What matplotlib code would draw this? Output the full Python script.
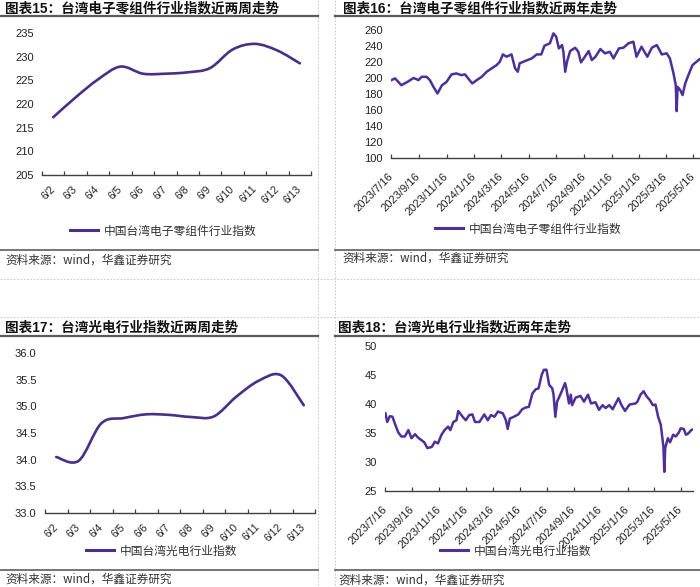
import numpy as np
import pandas as pd
import matplotlib
matplotlib.use('Agg')
import matplotlib.pyplot as plt
from matplotlib.path import Path
from matplotlib.patches import PathPatch
from matplotlib.lines import Line2D

plt.rcParams['font.family'] = ['Liberation Sans', 'Noto Sans CJK SC', 'DejaVu Sans']
plt.rcParams['axes.unicode_minus'] = False

# ---------------- data ----------------
days_2w = ['6/2', '6/3', '6/4', '6/5', '6/6', '6/7', '6/8', '6/9', '6/10', '6/11', '6/12', '6/13']
elec_2w = [217.2, 221.4, 225.2, 227.9, 226.4, 226.4, 226.7, 227.6, 231.5, 232.7, 231.3, 228.6]
pv_2w = [34.05, 33.98, 34.68, 34.78, 34.85, 34.84, 34.80, 34.81, 35.18, 35.48, 35.58, 35.02]

elec_2y_dates = ['2023-07-17', '2023-07-25', '2023-08-08', '2023-08-21', '2023-09-04', '2023-09-15',
                 '2023-09-22', '2023-10-03', '2023-10-10', '2023-10-18', '2023-10-27', '2023-11-06',
                 '2023-11-16', '2023-11-27', '2023-12-08', '2023-12-19', '2023-12-27', '2024-01-03',
                 '2024-01-12', '2024-01-22', '2024-02-02', '2024-02-13', '2024-02-26', '2024-03-06',
                 '2024-03-13', '2024-03-20', '2024-03-28', '2024-04-08', '2024-04-16', '2024-04-22',
                 '2024-04-26', '2024-05-08', '2024-05-23', '2024-06-03', '2024-06-13', '2024-06-20',
                 '2024-07-02', '2024-07-10', '2024-07-16', '2024-07-22', '2024-07-29', '2024-08-01',
                 '2024-08-05', '2024-08-09', '2024-08-16', '2024-08-27', '2024-09-03', '2024-09-09',
                 '2024-09-16', '2024-09-26', '2024-10-03', '2024-10-11', '2024-10-22', '2024-11-01',
                 '2024-11-12', '2024-11-20', '2024-12-02', '2024-12-12', '2024-12-23', '2025-01-03',
                 '2025-01-10', '2025-01-21', '2025-02-03', '2025-02-13', '2025-02-24', '2025-03-07',
                 '2025-03-18', '2025-03-25', '2025-04-02', '2025-04-07', '2025-04-09', '2025-04-11',
                 '2025-04-17', '2025-04-22', '2025-04-28', '2025-05-05', '2025-05-14', '2025-05-23',
                 '2025-05-30', '2025-06-06', '2025-06-13']
elec_2y_vals = [197.4, 199.5, 191.0, 195.0, 200.0, 197.4,
                201.5, 201.5, 197.4, 189.0, 180.7, 191.0,
                195.0, 204.5, 205.7, 203.6, 204.5, 199.5,
                193.2, 197.4, 201.5, 207.8, 212.8, 216.1,
                220.3, 229.5, 226.6, 229.5, 212.0, 207.8,
                218.3, 221.2, 224.5, 229.5, 229.5, 240.3,
                243.3, 255.8, 251.6, 237.0, 241.2, 232.8,
                207.8, 220.3, 233.7, 237.8, 232.8, 219.5,
                225.3, 233.7, 222.4, 226.6, 236.2, 230.8,
                232.8, 224.5, 237.0, 237.8, 243.3, 245.4,
                226.6, 239.1, 226.6, 237.8, 241.2, 229.5,
                230.8, 224.5, 205.7, 191.0, 158.6, 189.0,
                184.8, 178.6, 193.2, 203.6, 216.1, 220.3,
                223.7, 225.5, 228.6]

pv_2y_dates = ['2023-07-17', '2023-07-21', '2023-07-27', '2023-08-02', '2023-08-07', '2023-08-15',
               '2023-08-22', '2023-08-30', '2023-09-07', '2023-09-14', '2023-09-22', '2023-09-29',
               '2023-10-06', '2023-10-13', '2023-10-20', '2023-10-30', '2023-11-06', '2023-11-13',
               '2023-11-21', '2023-11-28', '2023-12-06', '2023-12-11', '2023-12-18', '2023-12-25',
               '2023-12-29', '2024-01-08', '2024-01-15', '2024-01-23', '2024-01-30', '2024-02-05',
               '2024-02-15', '2024-02-26', '2024-03-05', '2024-03-12', '2024-03-20', '2024-03-28',
               '2024-04-08', '2024-04-15', '2024-04-19', '2024-04-24', '2024-05-03', '2024-05-13',
               '2024-05-22', '2024-05-30', '2024-06-06', '2024-06-14', '2024-06-21', '2024-06-28',
               '2024-07-05', '2024-07-10', '2024-07-16', '2024-07-22', '2024-07-29', '2024-08-01',
               '2024-08-05', '2024-08-09', '2024-08-19', '2024-08-27', '2024-08-30', '2024-09-05',
               '2024-09-09', '2024-09-12', '2024-09-20', '2024-10-01', '2024-10-09', '2024-10-18',
               '2024-10-25', '2024-11-04', '2024-11-12', '2024-11-20', '2024-11-27', '2024-12-05',
               '2024-12-13', '2024-12-26', '2025-01-02', '2025-01-10', '2025-01-20', '2025-02-03',
               '2025-02-07', '2025-02-14', '2025-02-21', '2025-02-28', '2025-03-07', '2025-03-14',
               '2025-03-20', '2025-03-26', '2025-04-01', '2025-04-07', '2025-04-09', '2025-04-11',
               '2025-04-17', '2025-04-22', '2025-04-29', '2025-05-05', '2025-05-12', '2025-05-16',
               '2025-05-23', '2025-05-28', '2025-06-02', '2025-06-09', '2025-06-12']
pv_2y_vals = [38.4, 36.9, 37.9, 37.8, 36.7, 35.1,
              34.4, 34.4, 35.5, 34.1, 34.8, 34.2,
              33.8, 33.4, 32.4, 32.6, 33.5, 33.2,
              34.7, 35.5, 36.1, 35.5, 36.9, 37.2,
              38.8, 37.8, 37.2, 38.1, 38.2, 36.9,
              36.9, 38.2, 37.2, 38.1, 37.8, 38.7,
              38.4, 37.2, 35.7, 37.5, 37.8, 38.2,
              39.1, 39.4, 39.5, 41.8, 42.5, 42.7,
              45.0, 45.9, 45.9, 43.3, 42.7, 41.6,
              37.8, 40.4, 42.1, 43.6, 42.7, 40.1,
              41.6, 39.8, 41.1, 41.4, 40.4, 41.6,
              40.1, 40.3, 39.0, 39.8, 39.3, 39.8,
              39.1, 41.0, 39.8, 38.8, 39.9, 40.1,
              40.4, 41.6, 42.2, 41.3, 40.7, 39.8,
              39.9, 37.8, 36.4, 32.6, 28.3, 32.4,
              34.1, 33.4, 34.7, 34.4, 35.1, 35.8,
              35.7, 34.7, 34.9, 35.5, 35.6]

tick_dates_2y = ['2023/7/16', '2023/9/16', '2023/11/16', '2024/1/16', '2024/3/16', '2024/5/16',
                 '2024/7/16', '2024/9/16', '2024/11/16', '2025/1/16', '2025/3/16', '2025/5/16']

titles = ['图表15：台湾电子零组件行业指数近两周走势', '图表16：台湾电子零组件行业指数近两年走势',
          '图表17：台湾光电行业指数近两周走势', '图表18：台湾光电行业指数近两年走势']
name_elec = '中国台湾电子零组件行业指数'
name_pv = '中国台湾光电行业指数'
source = '资料来源：wind，华鑫证券研究'

# ---------------- layout ----------------
W, H = 700, 587
fig = plt.figure(figsize=(W / 100, H / 100), dpi=100)
LINE = '#4b2e86'
LINE2 = '#4f2f99'
CJK = ['Noto Sans CJK SC', 'DejaVu Sans']


def rect(l, t, r, b):
    return [l / W, 1 - b / H, (r - l) / W, (b - t) / H]


def fx(x):
    return x / W


def fy(y):
    return 1 - y / H


def style(ax):
    for s in ['top', 'right', 'left']:
        ax.spines[s].set_visible(False)
    ax.spines['bottom'].set_color('#404040')
    ax.spines['bottom'].set_linewidth(1.0)
    ax.tick_params(axis='y', length=0, labelsize=8, pad=6, colors='#222222')
    ax.tick_params(axis='x', which='major', direction='in', length=3, width=0.9,
                   color='#404040', labelsize=8, colors='#222222')
    ax.patch.set_alpha(0)


def smooth_path(xs, ys):
    # Excel-style smoothed line through the points (Catmull-Rom as Bezier)
    pts = np.column_stack([xs, ys]).astype(float)
    n = len(pts)
    verts = [pts[0]]
    codes = [Path.MOVETO]
    for i in range(n - 1):
        p0 = pts[i - 1] if i > 0 else pts[i]
        p1, p2 = pts[i], pts[i + 1]
        p3 = pts[i + 2] if i + 2 < n else pts[i + 1]
        verts += [p1 + (p2 - p0) / 6, p2 - (p3 - p1) / 6, p2]
        codes += [Path.CURVE4] * 3
    return Path(verts, codes)


def two_week(ax, vals, ylim, step, fmt, color):
    x = np.arange(len(days_2w))
    ax.add_patch(PathPatch(smooth_path(x, vals), fill=False, edgecolor=color, lw=1.9,
                           capstyle='round', joinstyle='round'))
    ax.set_xlim(-0.5, len(days_2w) - 0.5)
    ax.set_ylim(*ylim)
    ax.set_yticks(np.arange(ylim[0], ylim[1] + step / 2, step))
    ax.yaxis.set_major_formatter(matplotlib.ticker.FormatStrFormatter(fmt))
    ax.set_xticks(np.arange(len(days_2w) + 1) - 0.5)
    ax.set_xticklabels([])
    ax.set_xticks(x, minor=True)
    ax.set_xticklabels(days_2w, minor=True)
    ax.tick_params(axis='x', which='minor', length=0, pad=9, labelsize=7.5, colors='#222222')
    for lab in ax.get_xticklabels(minor=True):
        lab.set_rotation(45)
        lab.set_ha('right')
        lab.set_va('center')
        lab.set_rotation_mode('anchor')


def two_year(ax, dates, vals, ylim, step, color):
    d = pd.to_datetime(dates)
    ax.plot(d, vals, color=color, lw=1.8, solid_joinstyle='round')
    ax.set_xlim(pd.Timestamp('2023-07-16'), pd.Timestamp('2025-06-13'))
    ax.set_ylim(*ylim)
    ax.set_yticks(np.arange(ylim[0], ylim[1] + step / 2, step))
    ticks = pd.to_datetime(tick_dates_2y, format='%Y/%m/%d')
    ax.set_xticks(ticks)
    ax.set_xticklabels(tick_dates_2y)
    ax.tick_params(axis='x', which='major', pad=12)
    for lab in ax.get_xticklabels():
        lab.set_rotation(45)
        lab.set_ha('right')
        lab.set_va('center')
        lab.set_rotation_mode('anchor')


ax15 = fig.add_axes(rect(42, 33, 311, 175))
ax16 = fig.add_axes(rect(391, 30, 706, 158))
ax17 = fig.add_axes(rect(45, 353, 315, 513))
ax18 = fig.add_axes(rect(385, 346, 693, 491))
for a in (ax15, ax16, ax17, ax18):
    style(a)

two_week(ax15, elec_2w, (205, 235), 5, '%d', LINE)
two_year(ax16, elec_2y_dates, elec_2y_vals, (100, 260), 20, LINE2)
two_week(ax17, pv_2w, (33.0, 36.0), 0.5, '%.1f', LINE)
two_year(ax18, pv_2y_dates, pv_2y_vals, (25, 50), 5, LINE2)


def legend(ax, label, color, x, y):
    h = Line2D([], [], color=color, lw=2.2)
    ax.legend([h], [label], loc='center left', bbox_to_anchor=(fx(x), fy(y)),
              bbox_transform=fig.transFigure, frameon=False, borderpad=0, borderaxespad=0,
              handlelength=2.4, handletextpad=0.45,
              prop={'family': CJK, 'size': 8.5}, labelcolor='#333333')


legend(ax15, name_elec, LINE, 70, 231)
legend(ax16, name_elec, LINE2, 435, 229)
legend(ax17, name_pv, LINE, 86, 551)
legend(ax18, name_pv, LINE2, 440, 551)

# ---------------- frame decoration ----------------
def hline(y, x0, x1, color, lw, ls='-'):
    fig.add_artist(Line2D([fx(x0), fx(x1)], [fy(y), fy(y)], transform=fig.transFigure,
                          color=color, lw=lw, ls=ls))


def vline(x, y0, y1, color, lw, ls='-'):
    fig.add_artist(Line2D([fx(x), fx(x)], [fy(y0), fy(y1)], transform=fig.transFigure,
                          color=color, lw=lw, ls=ls))


DASH = (0, (2, 2))
vline(318, 0, H, '#c0c0c0', 0.6, DASH)
vline(335, 0, H, '#c0c0c0', 0.6, DASH)
hline(279, 0, W, '#c0c0c0', 0.6, DASH)
hline(317, 0, W, '#c0c0c0', 0.6, DASH)

for (x0, x1) in [(0, 318), (335, W)]:
    hline(15.7, x0, x1, '#5a5a5a', 1.6)
    hline(336, x0, x1, '#5a5a5a', 1.6)
    hline(250, x0, x1, '#6a6a6a', 1.3)
    hline(570, x0, x1, '#6a6a6a', 1.3)

title_pos = [(5, 8), (343, 8), (5, 327), (338, 327)]
for (x, y), t in zip(title_pos, titles):
    fig.text(fx(x), fy(y), t, fontsize=9.8, fontweight='bold', va='center', ha='left',
             color='#111111')

source_pos = [(5, 260), (342, 258), (5, 579), (338, 580)]
for x, y in source_pos:
    fig.text(fx(x), fy(y), source, fontsize=8.4, va='center', ha='left', color='#333333',
             family=CJK)

fig.savefig('out.png', dpi=100)
